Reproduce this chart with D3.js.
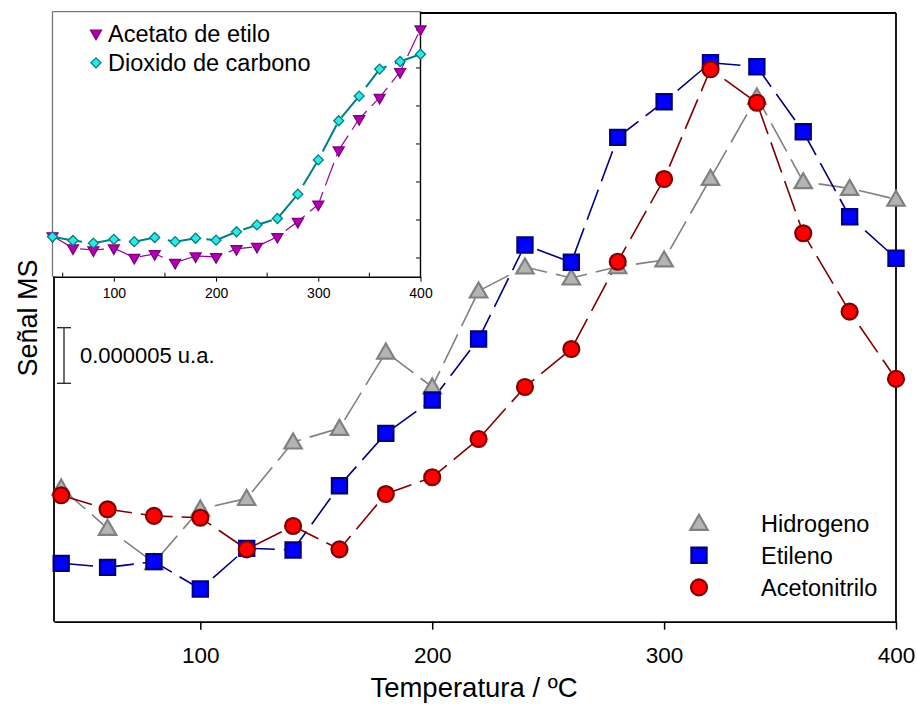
<!DOCTYPE html>
<html><head><meta charset="utf-8">
<script src="https://cdn.jsdelivr.net/npm/d3@7"></script>
<style>body{margin:0;background:#fff} text{font-family:"Liberation Sans",Arial,sans-serif;fill:#000}</style>
</head><body><svg id="c" width="917" height="706"></svg>
<script>
// Temperature (ºC)
const temps = [40,60,80,100,120,140,160,180,200,220,240,260,280,300,320,340,360,380,400];
// Main chart signals, in units of 1e-6 u.a. (arbitrary offset)
const hidrogeno    = [12.02,8.40,5.30,10.13,11.08,16.16,17.39,24.25,21.11,29.74,31.90,30.91,31.92,32.53,39.87,47.18,39.57,38.97,37.99];
const etileno      = [5.25,4.89,5.40,2.94,6.60,6.45,12.23,16.94,19.94,25.42,33.88,32.32,43.56,46.76,50.27,49.91,44.06,36.42,32.68];
const acetonitrilo = [11.37,10.11,9.51,9.35,6.51,8.61,6.51,11.48,12.99,16.43,21.11,24.52,32.37,39.81,49.68,46.67,34.93,27.88,21.83];
// Inset signals (arbitrary units)
const acetato = [1.58,1.26,1.21,1.26,1.01,1.11,0.88,1.05,1.03,1.24,1.30,1.56,1.96,2.41,3.84,4.66,5.22,5.90,7.02];
const dioxido = [1.56,1.46,1.39,1.49,1.43,1.54,1.43,1.52,1.47,1.69,1.87,2.04,2.68,3.58,4.61,5.26,5.97,6.17,6.36];
const xTicks = [100,200,300,400];
const insetMinorTicks = [50,150,250,350];
const insetYTicks = [1,2,3,4,5,6,7];
const scaleBarValue = 5; // 0.000005 u.a.
const scaleBarTop = 26.44;

const svg = d3.select("#c");
const x = d3.scaleLinear().domain([36.9,400]).range([54,896]);
const y = d3.scaleLinear().domain([0,54.74]).range([621.7,13]);

const series = [
  {name:"Hidrogeno", vals:hidrogeno, line:"#808080", fill:"#b4b4b4", stroke:"#808080", sym:d3.symbolTriangle, size:130},
  {name:"Etileno", vals:etileno, line:"#000080", fill:"#0000ff", stroke:"#000080", sym:d3.symbolSquare, size:230},
  {name:"Acetonitrilo", vals:acetonitrilo, line:"#800000", fill:"#ff0000", stroke:"#800000", sym:d3.symbolCircle, size:200}
];

// frame
svg.append("line").attr("x1",54).attr("x2",54).attr("y1",y.range()[1]).attr("y2",y.range()[0]).attr("stroke","#000").attr("stroke-width",1.8);
svg.append("line").attr("x1",896).attr("x2",896).attr("y1",13).attr("y2",621.7).attr("stroke","#000").attr("stroke-width",1.8);
svg.append("line").attr("x1",54).attr("x2",896).attr("y1",13).attr("y2",13).attr("stroke","#000").attr("stroke-width",1.8);

const xAxis = svg.append("g").attr("transform","translate(0,621.7)")
  .call(d3.axisBottom(x).tickValues(xTicks).tickSize(8).tickSizeOuter(0).tickPadding(17).tickFormat(d3.format("d")));
xAxis.select(".domain").attr("stroke","#000").attr("stroke-width",1.8);
xAxis.selectAll(".tick line").attr("stroke","#000").attr("stroke-width",1.5);
xAxis.selectAll(".tick text").attr("font-size",22.5).attr("font-family","Liberation Sans, Arial, sans-serif").attr("fill","#000");

svg.append("text").attr("x",474).attr("y",697).attr("text-anchor","middle").attr("font-size",27.5).text("Temperatura / ºC");
svg.append("text").attr("transform","translate(37,318) rotate(-90)").attr("text-anchor","middle").attr("font-size",27).text("Señal MS");

// scale bar
const sbTop = y(scaleBarTop), sbBot = y(scaleBarTop - scaleBarValue);
const sb = svg.append("g").attr("stroke","#222").attr("stroke-width",1.3);
sb.append("line").attr("x1",64).attr("x2",64).attr("y1",sbTop).attr("y2",sbBot);
sb.append("line").attr("x1",57).attr("x2",71).attr("y1",sbTop).attr("y2",sbTop);
sb.append("line").attr("x1",57).attr("x2",71).attr("y1",sbBot).attr("y2",sbBot);
svg.append("text").attr("x",80).attr("y",(sbTop+sbBot)/2).attr("dy","0.36em").attr("font-size",22).text("0.000005 u.a.");

// lines and markers
const lineGen = d3.line().x((d,i)=>x(temps[i])).y(d=>y(d));
series.forEach(s=>{
  svg.append("path").datum(s.vals).attr("d",lineGen).attr("fill","none")
    .attr("stroke",s.line).attr("stroke-width",1.6).attr("stroke-dasharray","32,9");
});
series.forEach(s=>{
  svg.append("g").selectAll("path").data(s.vals).join("path")
    .attr("d",d3.symbol().type(s.sym).size(s.size))
    .attr("transform",(d,i)=>`translate(${x(temps[i])},${y(d)+(s.sym===d3.symbolTriangle?1.5:0)})`)
    .attr("fill",s.fill).attr("stroke",s.stroke).attr("stroke-width",2.2);
});

// legend
const lg = svg.append("g");
series.forEach((s,i)=>{
  const ly = 523.3 + i*32;
  lg.append("path").attr("d",d3.symbol().type(s.sym).size(s.size))
    .attr("transform",`translate(699,${ly+(s.sym===d3.symbolTriangle?1.5:0)})`)
    .attr("fill",s.fill).attr("stroke",s.stroke).attr("stroke-width",2.2);
  lg.append("text").attr("x",761).attr("y",ly).attr("dy","0.36em").attr("font-size",23.5).text(s.name);
});

// inset
const ix = d3.scaleLinear().domain([40,400]).range([52.5,420.5]);
const iy = d3.scaleLinear().domain([0.508,7.48]).range([276.7,11.7]);
const inset = svg.append("g");
inset.append("rect").attr("x",52.5).attr("y",11.7).attr("width",368).attr("height",265).attr("fill","#fff");
inset.append("line").attr("x1",52.5).attr("x2",52.5).attr("y1",11.7).attr("y2",276.7).attr("stroke","#777").attr("stroke-width",1.3);
inset.append("line").attr("x1",52.5).attr("x2",420.5).attr("y1",11.7).attr("y2",11.7).attr("stroke","#777").attr("stroke-width",1.3);
inset.append("line").attr("x1",420.5).attr("x2",420.5).attr("y1",11.7).attr("y2",276.7).attr("stroke","#000").attr("stroke-width",1.4);
const iAxis = inset.append("g").attr("transform","translate(0,276.7)")
  .call(d3.axisBottom(ix).tickValues(xTicks).tickSize(5).tickSizeOuter(0).tickPadding(6).tickFormat(d3.format("d")));
iAxis.select(".domain").attr("stroke","#000").attr("stroke-width",1.4);
iAxis.selectAll(".tick line").attr("stroke","#000");
iAxis.selectAll(".tick text").attr("font-size",14).attr("font-family","Liberation Sans, Arial, sans-serif").attr("fill","#000");
inset.append("g").selectAll("line").data(insetMinorTicks).join("line")
  .attr("x1",d=>ix(d)).attr("x2",d=>ix(d)).attr("y1",276.7).attr("y2",272.7).attr("stroke","#000");
inset.append("g").selectAll("line").data(insetYTicks).join("line")
  .attr("x1",420.5).attr("x2",416).attr("y1",d=>iy(d)).attr("y2",d=>iy(d)).attr("stroke","#000");

const iLine = d3.line().x((d,i)=>ix(temps[i])).y(d=>iy(d));
const iseries = [
  {name:"Acetato de etilo", vals:acetato, line:"#990099", lw:1.2, fill:"#b000b0", stroke:"#800080", sym:d3.symbolTriangle, size:52, rot:180, dash:"24,7"},
  {name:"Dioxido de carbono", vals:dioxido, line:"#008080", lw:2, fill:"#33e6e6", stroke:"#008080", sym:d3.symbolSquare, size:50, rot:45, dash:"30,9"}
];
iseries.forEach(s=>{
  inset.append("path").datum(s.vals).attr("d",iLine).attr("fill","none")
    .attr("stroke",s.line).attr("stroke-width",s.lw).attr("stroke-dasharray",s.dash);
});
iseries.forEach(s=>{
  inset.append("g").selectAll("path").data(s.vals).join("path")
    .attr("d",d3.symbol().type(s.sym).size(s.size))
    .attr("transform",(d,i)=>`translate(${ix(temps[i])},${iy(d)}) rotate(${s.rot})`)
    .attr("fill",s.fill).attr("stroke",s.stroke).attr("stroke-width",1.3);
});
iseries.forEach((s,i)=>{
  const ly = 33.3 + i*29.5;
  inset.append("path").attr("d",d3.symbol().type(s.sym).size(s.size))
    .attr("transform",`translate(96,${ly}) rotate(${s.rot})`)
    .attr("fill",s.fill).attr("stroke",s.stroke).attr("stroke-width",1.3);
  inset.append("text").attr("x",108).attr("y",ly).attr("dy","0.36em").attr("font-size",23.5).text(s.name);
});
</script></body></html>
